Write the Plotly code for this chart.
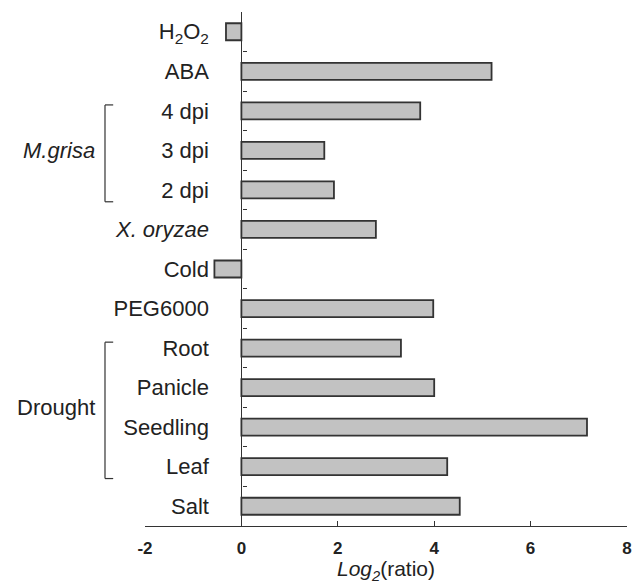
import plotly.graph_objects as go

categories = ["H<sub>2</sub>O<sub>2</sub>", "ABA", "4 dpi", "3 dpi", "2 dpi",
              "<i>X. oryzae</i>", "Cold", "PEG6000", "Root", "Panicle",
              "Seedling", "Leaf", "Salt"]
values = [-0.32, 5.19, 3.71, 1.72, 1.92, 2.79, -0.56, 3.98, 3.31, 4.0, 7.17, 4.27, 4.53]
x_ticks = [-2, 0, 2, 4, 6, 8]
groups = {"<i>M.grisa</i>": ["4 dpi", "3 dpi", "2 dpi"],
          "Drought": ["Root", "Panicle", "Seedling", "Leaf"]}

FONT = "Liberation Sans, Arial, sans-serif"

fig = go.Figure(go.Bar(
    x=values, y=categories, orientation="h", width=0.43,
    marker=dict(color="#c2c2c2", line=dict(color="#333333", width=1.8)),
))

shapes, annotations = [], []
for name, members in groups.items():
    idx = [categories.index(m) for m in members]
    top, bot = min(idx) - 0.15, max(idx) + 0.3
    xl, xr = -0.083, -0.066
    for (x0, y0, x1, y1) in [(xl, top, xl, bot), (xl, top, xr, top), (xl, bot, xr, bot)]:
        shapes.append(dict(type="line", xref="paper", yref="y", x0=x0, x1=x1, y0=y0, y1=y1,
                           line=dict(color="#333", width=1.2)))
    annotations.append(dict(text=name, xref="paper", yref="y", x=-0.1, y=sum(idx) / len(idx),
                            xanchor="right", yanchor="middle", showarrow=False,
                            font=dict(family=FONT, size=22, color="#222")))

fig.update_layout(
    width=644, height=587,
    margin=dict(l=145, r=15, t=12, b=61),
    paper_bgcolor="white", plot_bgcolor="white",
    showlegend=False, bargap=0.5,
    shapes=shapes, annotations=annotations,
    font=dict(family=FONT, color="#222"),
)
fig.update_xaxes(
    range=[-2, 8], tickvals=x_ticks, ticktext=[str(v) for v in x_ticks],
    showline=True, linecolor="#333", linewidth=1.2, showgrid=False, zeroline=False,
    ticks="inside", ticklen=5, tickcolor="#333", ticklabelstandoff=6,
    tickfont=dict(family=FONT, size=17, weight="bold", color="#222"),
    title=dict(text="<i>Log<sub>2</sub></i>(ratio)", standoff=2,
               font=dict(family=FONT, size=21, color="#222")),
)
fig.update_yaxes(
    type="category", autorange="reversed", anchor="free", position=0.2,
    showline=True, linecolor="#333", linewidth=1.2, showgrid=False, zeroline=False,
    ticks="inside", tickson="boundaries", ticklen=4, tickcolor="#333",
    ticklabelstandoff=28,
    tickfont=dict(family=FONT, size=22, color="#222"),
)

fig.write_html("out.html", config={"displayModeBar": False},
               post_script="document.body.style.margin='0';")
